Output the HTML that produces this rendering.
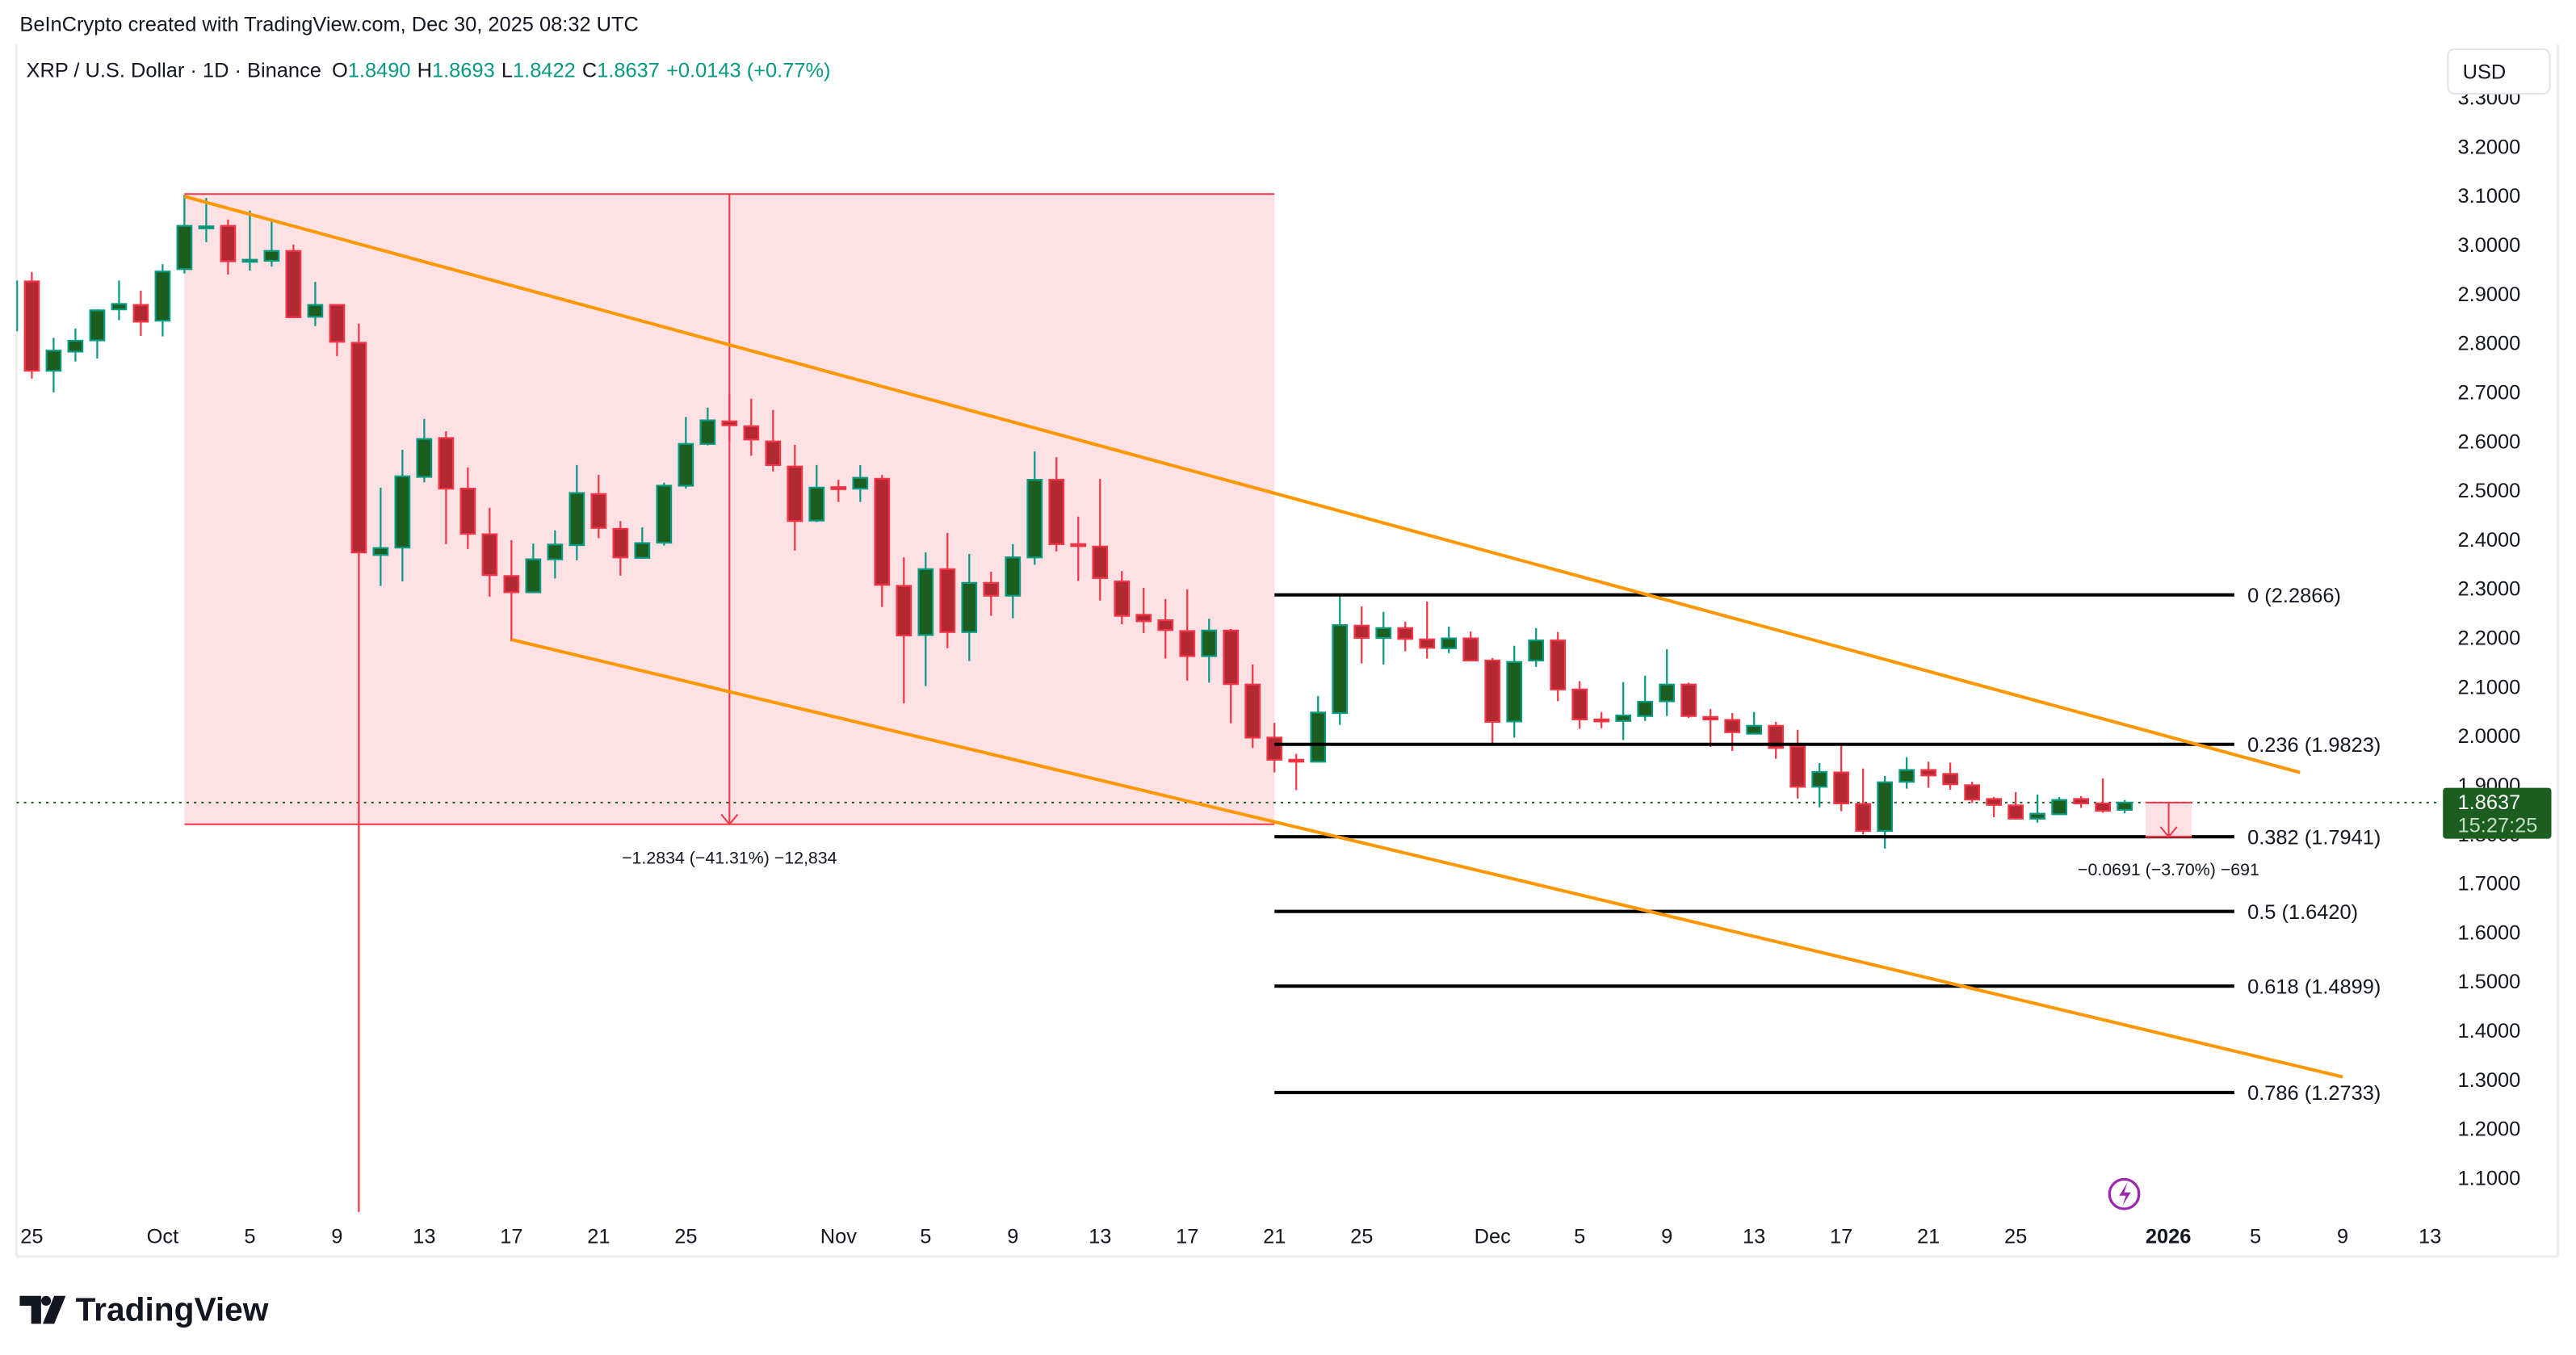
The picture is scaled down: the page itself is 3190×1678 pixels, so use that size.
<!DOCTYPE html>
<html><head><meta charset="utf-8">
<style>
html,body{margin:0;padding:0;background:#fff;}
svg{display:block;font-family:"Liberation Sans",sans-serif;}
</style></head>
<body>
<svg id="chart" width="3190" height="1678" viewBox="0 0 1568 825" preserveAspectRatio="none" xmlns="http://www.w3.org/2000/svg">
<rect x="0" y="0" width="1568" height="825" fill="#fff"/>
<defs><clipPath id="plotclip"><rect x="10" y="27" width="1476" height="738"/></clipPath></defs>
<g id="frame">
<line x1="10" y1="27" x2="10" y2="765" stroke="#eceef2" stroke-width="1.5"/>
<line x1="10" y1="765" x2="1557" y2="765" stroke="#eceef2" stroke-width="1.5"/>
<line x1="1557" y1="27" x2="1557" y2="765" stroke="#eceef2" stroke-width="1.5"/>
</g>
<text x="12" y="19" font-size="12.5" fill="#131722">BeInCrypto created with TradingView.com, Dec 30, 2025 08:32 UTC</text>
<text x="16" y="47" font-size="12.5" fill="#131722">XRP / U.S. Dollar · 1D · Binance <tspan dx="3">O</tspan><tspan fill="#089981">1.8490</tspan><tspan dx="4">H</tspan><tspan fill="#089981">1.8693</tspan><tspan dx="4">L</tspan><tspan fill="#089981">1.8422</tspan><tspan dx="4">C</tspan><tspan fill="#089981">1.8637</tspan><tspan dx="4" fill="#089981">+0.0143 (+0.77%)</tspan></text>
<g id="overlays" clip-path="url(#plotclip)"></g>
<g id="candles" clip-path="url(#plotclip)"></g>
<g id="fronts"></g>
<g id="yaxis"></g>
<g id="xaxis"></g>
<g>
<rect x="1490" y="30" width="62" height="27" rx="4" fill="#fff" stroke="#e0e3eb"/>
<text x="1499" y="48" font-size="12.5" fill="#131722">USD</text>
</g>
<g>
<path d="M12 789h13v17h-6v-11h-7z M28 789a3 3 0 1 0 0.1 0z M33 789h7l-7 17h-7z" fill="#131722"/>
<text x="46" y="804" font-size="20" font-weight="bold" fill="#131722">TradingView</text>
</g>
<g>
<circle cx="1293" cy="727" r="9" fill="none" stroke="#9c27b0" stroke-width="1.6"/>
<path d="M1295 720l-5 8h4l-2 6 5-8h-4z" fill="#9c27b0"/>
</g>
</svg>
<script>
const dayLabels = ["Sep24","Sep25","Sep26","Sep27","Sep28","Sep29","Sep30","Oct1","Oct2","Oct3","Oct4","Oct5","Oct6","Oct7","Oct8","Oct9","Oct10","Oct11","Oct12","Oct13","Oct14","Oct15","Oct16","Oct17","Oct18","Oct19","Oct20","Oct21","Oct22","Oct23","Oct24","Oct25","Oct26","Oct27","Oct28","Oct29","Oct30","Oct31","Nov1","Nov2","Nov3","Nov4","Nov5","Nov6","Nov7","Nov8","Nov9","Nov10","Nov11","Nov12","Nov13","Nov14","Nov15","Nov16","Nov17","Nov18","Nov19","Nov20","Nov21","Nov22","Nov23","Nov24","Nov25","Nov26","Nov27","Nov28","Nov29","Nov30","Dec1","Dec2","Dec3","Dec4","Dec5","Dec6","Dec7","Dec8","Dec9","Dec10","Dec11","Dec12","Dec13","Dec14","Dec15","Dec16","Dec17","Dec18","Dec19","Dec20","Dec21","Dec22","Dec23","Dec24","Dec25","Dec26","Dec27","Dec28","Dec29","Dec30"];
const opens = [2.825,2.925,2.743,2.782,2.805,2.868,2.877,2.845,2.950,3.036,3.038,2.967,2.967,2.987,2.853,2.877,2.800,2.368,2.383,2.527,2.606,2.503,2.410,2.325,2.292,2.359,2.388,2.492,2.421,2.362,2.393,2.509,2.594,2.640,2.630,2.599,2.548,2.438,2.506,2.503,2.523,2.305,2.205,2.339,2.211,2.311,2.285,2.363,2.521,2.390,2.385,2.314,2.246,2.235,2.213,2.162,2.214,2.104,1.996,1.951,1.947,2.046,2.224,2.199,2.219,2.196,2.178,2.198,2.153,2.029,2.153,2.194,2.094,2.033,2.030,2.040,2.070,2.104,2.038,2.032,2.004,2.020,1.978,1.896,1.925,1.861,1.806,1.906,1.930,1.922,1.899,1.871,1.858,1.831,1.840,1.871,1.862,1.849];
const highs = [2.940,2.944,2.810,2.829,2.868,2.927,2.906,2.960,3.101,3.095,3.051,3.069,3.048,3.000,2.924,2.877,2.839,2.505,2.582,2.645,2.620,2.546,2.464,2.398,2.391,2.418,2.551,2.531,2.437,2.424,2.515,2.649,2.668,2.695,2.686,2.663,2.592,2.551,2.521,2.551,2.531,2.363,2.373,2.413,2.370,2.334,2.390,2.579,2.567,2.446,2.523,2.335,2.301,2.278,2.298,2.238,2.217,2.145,2.026,1.963,2.081,2.284,2.263,2.252,2.232,2.273,2.222,2.212,2.158,2.183,2.219,2.211,2.111,2.048,2.109,2.122,2.176,2.108,2.054,2.046,2.048,2.028,2.012,1.944,1.985,1.933,1.918,1.956,1.947,1.945,1.906,1.875,1.885,1.880,1.875,1.877,1.913,1.869];
const lows = [2.800,2.727,2.699,2.762,2.768,2.846,2.814,2.813,2.941,3.005,2.939,2.947,2.955,2.850,2.834,2.773,1.030,2.305,2.314,2.516,2.390,2.380,2.283,2.192,2.292,2.320,2.357,2.402,2.326,2.362,2.387,2.503,2.591,2.600,2.570,2.538,2.377,2.435,2.476,2.476,2.262,2.066,2.101,2.178,2.152,2.244,2.239,2.348,2.375,2.315,2.275,2.227,2.209,2.157,2.112,2.108,2.025,1.975,1.925,1.889,1.947,2.022,2.147,2.145,2.172,2.157,2.168,2.153,1.985,1.996,2.140,2.070,2.014,2.015,1.991,2.030,2.040,2.036,1.977,1.969,2.004,1.953,1.872,1.854,1.846,1.799,1.770,1.892,1.894,1.890,1.863,1.834,1.829,1.823,1.840,1.853,1.843,1.842];
const closes = [2.925,2.743,2.784,2.804,2.866,2.879,2.843,2.945,3.038,3.037,2.966,2.969,2.987,2.852,2.877,2.802,2.373,2.382,2.528,2.604,2.503,2.411,2.327,2.292,2.359,2.389,2.494,2.423,2.363,2.392,2.509,2.594,2.642,2.632,2.603,2.551,2.437,2.505,2.503,2.525,2.307,2.204,2.339,2.211,2.311,2.285,2.363,2.521,2.390,2.386,2.321,2.244,2.233,2.215,2.162,2.214,2.105,1.996,1.951,1.948,2.047,2.225,2.199,2.219,2.197,2.179,2.198,2.153,2.028,2.150,2.194,2.094,2.033,2.032,2.041,2.069,2.104,2.040,2.033,2.007,2.020,1.975,1.896,1.926,1.862,1.806,1.905,1.930,1.919,1.901,1.870,1.859,1.831,1.841,1.869,1.862,1.847,1.8637];
const priceTicks = ["3.3000","3.2000","3.1000","3.0000","2.9000","2.8000","2.7000","2.6000","2.5000","2.4000","2.3000","2.2000","2.1000","2.0000","1.9000","1.8000","1.7000","1.6000","1.5000","1.4000","1.3000","1.2000","1.1000"];
const timeTickLabels = ["25","Oct","5","9","13","17","21","25","Nov","5","9","13","17","21","25","Dec","5","9","13","17","21","25","2026","5","9","13"];
const timeTickDays = [-6,0,4,8,12,16,20,24,31,35,39,43,47,51,55,61,65,69,73,77,81,85,92,96,100,104];
const fibLevels = [0,0.236,0.382,0.5,0.618,0.786];
const fibPrices = [2.2866,1.9823,1.7941,1.6420,1.4899,1.2733];
const lastPrice = 1.8637;

const NS = "http://www.w3.org/2000/svg";
const OCT1_INDEX = 7;
function xDay(d){ return 99 + d*13.27; }
function xIdx(i){ return xDay(i - OCT1_INDEX); }
function yP(p){ return 119 + (3.1 - p)*299; }
function mk(tag, attrs, parent){
  const e = document.createElementNS(NS, tag);
  for (const k in attrs) e.setAttribute(k, attrs[k]);
  parent.appendChild(e);
  return e;
}
const gO = document.getElementById('overlays');
const gC = document.getElementById('candles');
const gF = document.getElementById('fronts');
const gY = document.getElementById('yaxis');
const gX = document.getElementById('xaxis');

const mX1 = xIdx(8), mX2 = xIdx(58), mTop = yP(3.103), mBot = yP(1.8196);
let r = mk('rect',{x:mX1,y:mTop,width:mX2-mX1,height:mBot-mTop,fill:'#fde1e4'},gO);


let l = mk('line',{x1:mX1,y1:mTop,x2:mX2,y2:mTop,stroke:'#f23645','stroke-width':1},gO);


l = mk('line',{x1:mX1,y1:mBot,x2:mX2,y2:mBot,stroke:'#f23645','stroke-width':1},gO);


const mMid = (mX1+mX2)/2;
l = mk('line',{x1:mMid,y1:mTop,x2:mMid,y2:mBot,stroke:'#f23645','stroke-width':1},gO);


l = mk('path',{d:`M${mMid-5} ${mBot-6}L${mMid} ${mBot}L${mMid+5} ${mBot-6}`,stroke:'#f23645',fill:'none','stroke-width':1},gO);



l = mk('line',{x1:10,y1:yP(lastPrice),x2:1486,y2:yP(lastPrice),stroke:'#1b5e20','stroke-width':1,'stroke-dasharray':'1.5 3'},gO);



const fibX1 = xIdx(58), fibX2 = 1360;
fibPrices.forEach((p,k)=>{
  const y = yP(p);
  const ln = mk('line',{x1:fibX1,y1:y,x2:fibX2,y2:y,stroke:'#000','stroke-width':2},gF);
  
  
  const t = mk('text',{x:1368,y:y+4.5,'font-size':12.5,fill:'#131722'},gF);
  t.textContent = fibLevels[k] + ' (' + p.toFixed(4) + ')';
  
  
});

const pbX1 = xIdx(98)-0.5, pbX2 = pbX1+28;
const pbTop = yP(lastPrice), pbBot = yP(1.7941);
r = mk('rect',{x:pbX1,y:pbTop,width:pbX2-pbX1,height:pbBot-pbTop,fill:'#fde1e4'},gF);


l = mk('line',{x1:pbX1,y1:pbTop,x2:pbX2,y2:pbTop,stroke:'#f23645','stroke-width':1},gF);


l = mk('line',{x1:pbX1,y1:pbBot,x2:pbX2,y2:pbBot,stroke:'#f23645','stroke-width':1.2},gF);


const pbm=(pbX1+pbX2)/2;
l = mk('path',{d:`M${pbm} ${pbTop}V${pbBot} M${pbm-5} ${pbBot-6}L${pbm} ${pbBot}L${pbm+5} ${pbBot-6}`,stroke:'#f23645',fill:'none','stroke-width':1},gF);



for (let i=0;i<opens.length;i++){
  const x = xIdx(i), o=opens[i], c=closes[i], h=highs[i], lo=lows[i];
  const up = c >= o;
  const edge = up ? '#089981' : '#f23645';
  const fill = up ? '#1b5e20' : '#b22833';
  const g = mk('g',{},gC);
  
  
  mk('line',{x1:x,y1:yP(h),x2:x,y2:yP(lo),stroke:edge,'stroke-width':1.1},g);
  const top = yP(Math.max(o,c)), bh = Math.max(1.2, Math.abs(yP(o)-yP(c)));
  mk('rect',{x:x-4.3,y:top,width:8.6,height:bh,fill:fill,stroke:edge,'stroke-width':1.1},g);
}

l = mk('line',{x1:xIdx(8),y1:yP(3.098),x2:1400,y2:yP(1.925),stroke:'#ff9800','stroke-width':2},gF);


l = mk('line',{x1:xIdx(23),y1:yP(2.1955),x2:1426,y2:yP(1.305),stroke:'#ff9800','stroke-width':2},gF);



let t = mk('text',{x:mMid,y:mBot+24,'font-size':10.5,fill:'#131722','text-anchor':'middle'},gF);
t.textContent = '\u22121.2834 (\u221241.31%) \u221212,834';


t = mk('text',{x:1320,y:533,'font-size':10.5,fill:'#131722','text-anchor':'middle'},gF);
t.textContent = '\u22120.0691 (\u22123.70%) \u2212691';



priceTicks.forEach(s=>{
  const y = yP(parseFloat(s));
  const tx = mk('text',{x:1496,y:y+4.5,'font-size':12.5,fill:'#131722'},gY);
  tx.textContent = s;
  
  
});
const lpY = yP(lastPrice);
r = mk('rect',{x:1487,y:lpY-9,width:66,height:31,rx:2,fill:'#1b5e20'},gY);


t = mk('text',{x:1496,y:lpY+4,'font-size':12.5,fill:'#fff'},gY);
t.textContent = lastPrice.toFixed(4);


t = mk('text',{x:1496,y:lpY+18,'font-size':12.5,fill:'#c5dcc6'},gY);
t.textContent = '15:27:25';



timeTickLabels.forEach((s,k)=>{
  const tx = mk('text',{x:xDay(timeTickDays[k]),y:757,'font-size':12.5,fill:'#131722','text-anchor':'middle'},gX);
  if (s==='2026') tx.setAttribute('font-weight','bold');
  tx.textContent = s;
  
  
});
</script>
</body></html>
